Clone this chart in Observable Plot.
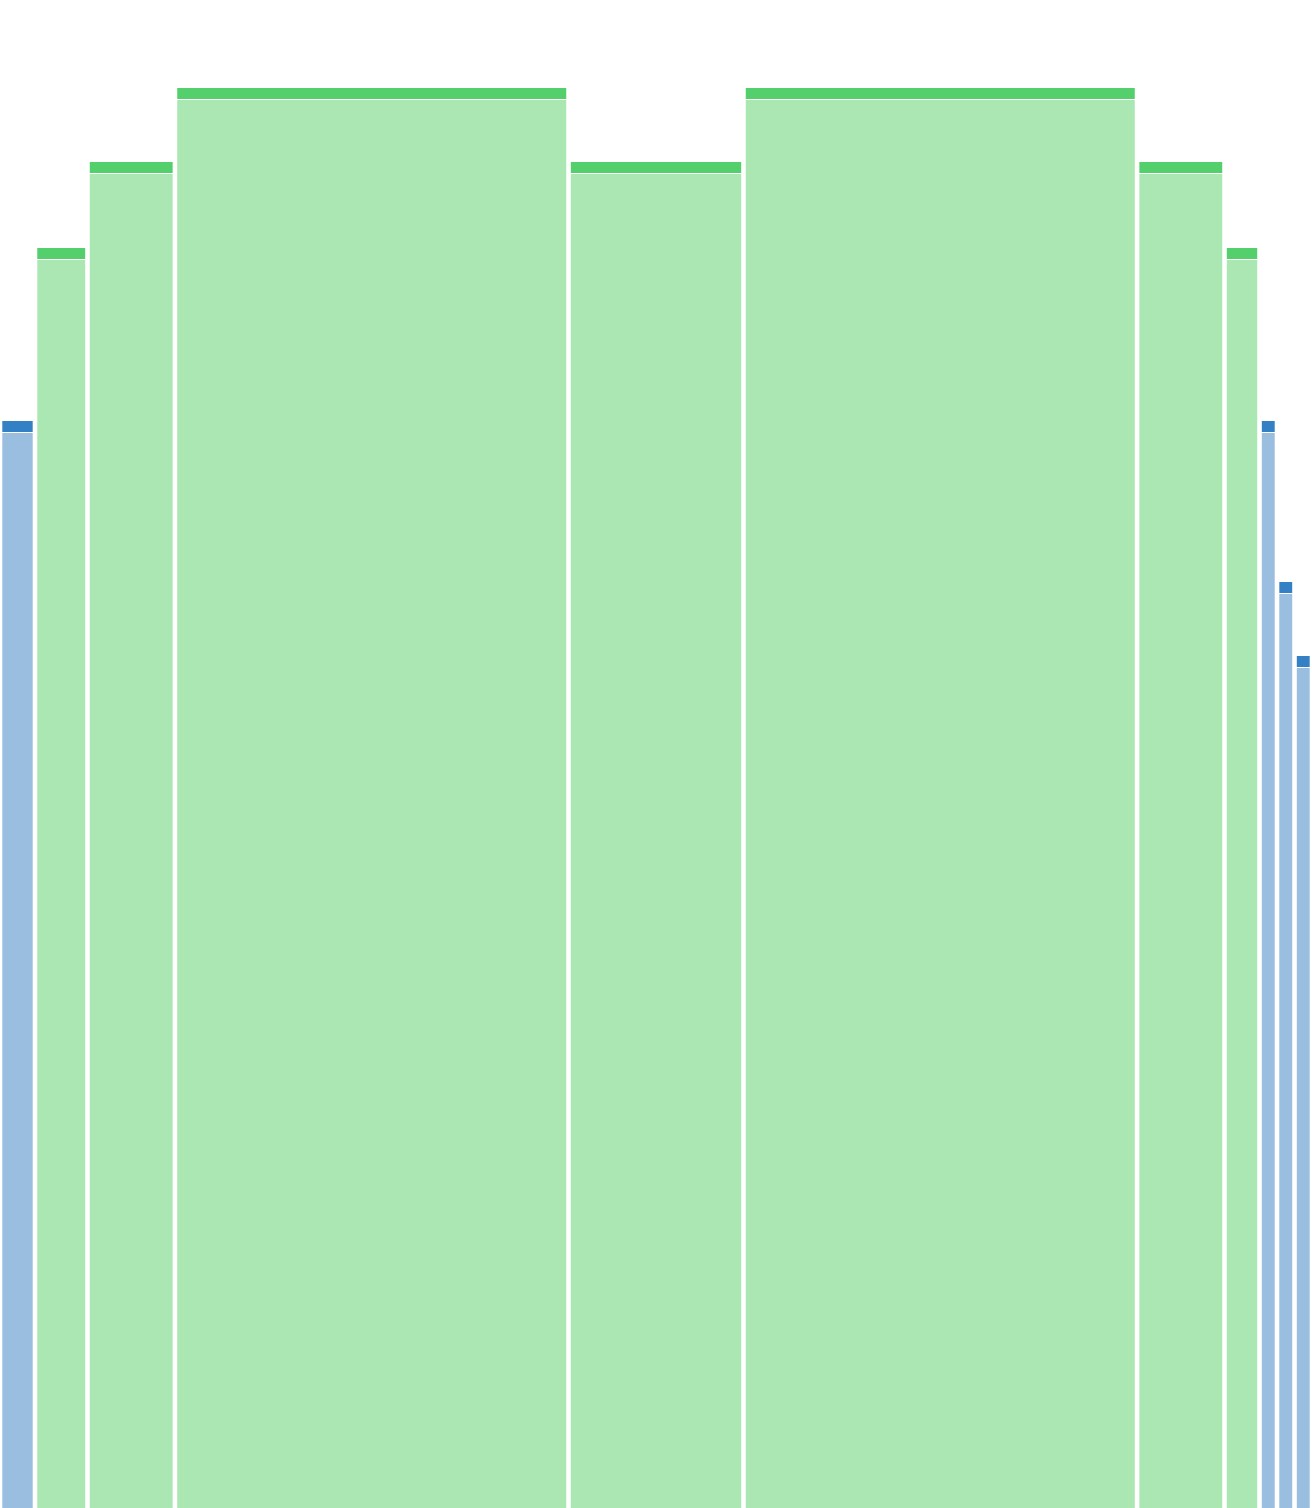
<!DOCTYPE html>
<html>
<head>
<meta charset="utf-8">
<script src="https://cdn.jsdelivr.net/npm/d3@7"></script>
<script src="https://cdn.jsdelivr.net/npm/@observablehq/plot@0.6"></script>
<style>
  html, body { margin: 0; padding: 0; background: #fff; }
  #chart svg { display: block; }
</style>
</head>
<body>
<div id="chart"></div>
<script>
// Data
const groups  = ["g1","g2","g3","g4","g5","g6","g7","g8","g9","g10","g11"];
const series  = ["blue","green","green","green","green","green","green","green","blue","blue","blue"];
const widths  = [2, 3, 5, 22.5, 10, 22.5, 5, 2, 1, 1, 1];
const values  = [108.7, 126.0, 134.6, 142.0, 134.6, 142.0, 134.6, 126.0, 108.7, 92.6, 85.2];

const capSize = 1.1;
const ends = d3.cumsum(widths);
const rows = groups.map((g, i) => ({
  group: g,
  series: series[i],
  x1: ends[i] - widths[i],
  x2: ends[i],
  value: values[i]
}));

const bodyColor = {blue: "#9abee0", green: "#aae7b3"};
const capColor  = {blue: "#3381c4", green: "#53cf6c"};

const chart = Plot.plot({
  width: 1312,
  height: 1508,
  marginTop: 0,
  marginRight: 0,
  marginBottom: 0,
  marginLeft: 0,
  x: {domain: [0, d3.sum(widths)], axis: null},
  y: {domain: [0, 150.8], axis: null},
  marks: [
    Plot.rect(rows, {
      x1: "x1", x2: "x2",
      y1: 0, y2: d => d.value - capSize - 0.1,
      fill: d => bodyColor[d.series],
      insetLeft: 2.3, insetRight: 2.3
    }),
    Plot.rect(rows, {
      x1: "x1", x2: "x2",
      y1: d => d.value - capSize, y2: "value",
      fill: d => capColor[d.series],
      insetLeft: 2.3, insetRight: 2.3
    })
  ]
});
document.getElementById("chart").appendChild(chart);
</script>
</body>
</html>
